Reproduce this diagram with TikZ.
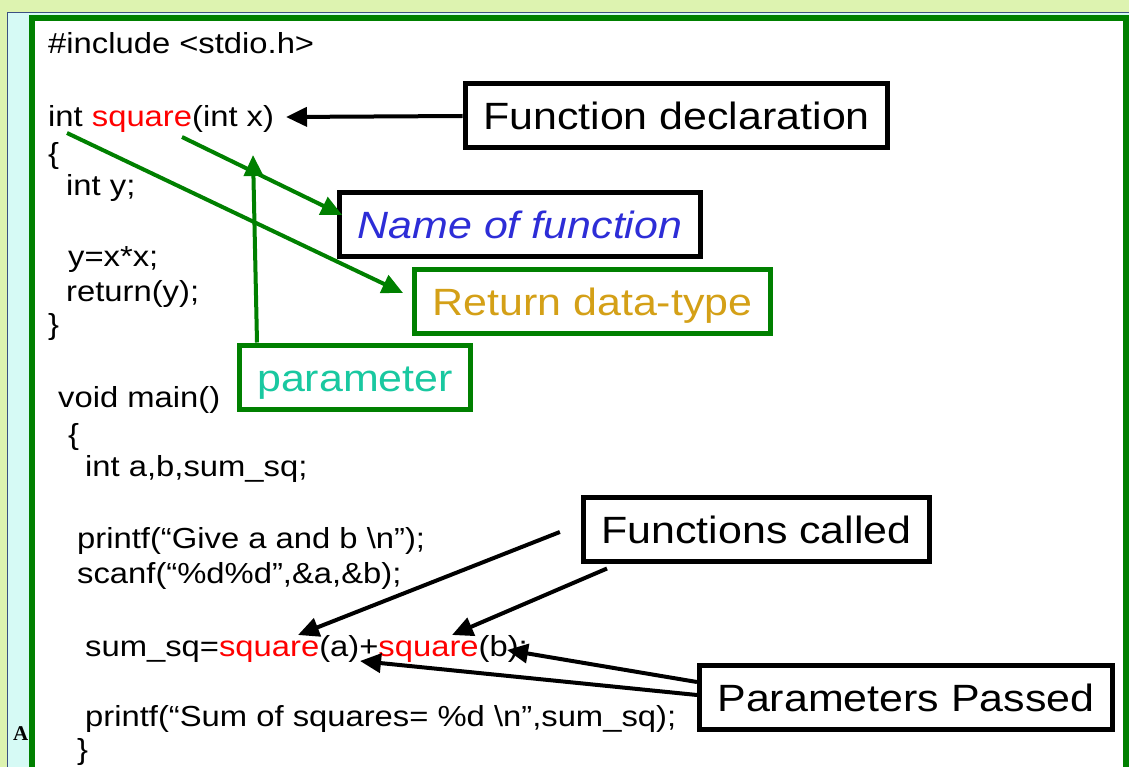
\documentclass[tikz,border=0pt]{standalone}
\usepackage{fontspec}
\setmainfont{Liberation Sans}
\newfontfamily\codefont[FakeStretch=1.13]{Liberation Sans}
\newfontfamily\markfont{Liberation Serif}
\usetikzlibrary{arrows.meta}
\definecolor{slidebg}{RGB}{221,243,176}
\definecolor{stripcyan}{RGB}{214,250,245}
\definecolor{edgeblue}{RGB}{60,80,130}
\definecolor{dkgreen}{RGB}{0,128,0}
\definecolor{namecol}{RGB}{45,45,215}
\definecolor{retcol}{RGB}{212,160,23}
\definecolor{parcol}{RGB}{25,200,160}
\begin{document}
\begin{tikzpicture}[x=1pt,y=-1pt,
  code/.style={anchor=base west,inner sep=0pt,font=\codefont\fontsize{29}{34}\selectfont},
  tag/.style={draw,line width=5pt,inner xsep=18pt,inner ysep=0pt,minimum height=64pt,
    text height=28pt,text depth=0pt,font=\codefont\fontsize{38}{44}\selectfont},
  blk/.style={line width=4pt,-{Triangle[length=21pt,width=19pt]}},
  grn/.style={blk,dkgreen}]
\useasboundingbox (0,0) rectangle (1129,767);
\clip (0,0) rectangle (1129,767);
% slide frame
\fill[slidebg] (0,0) rectangle (1129,767);
\filldraw[fill=stripcyan,draw=edgeblue,line width=1.5pt] (7.5,12.5) rectangle (1140,790);
\filldraw[fill=white,draw=dkgreen,line width=6pt] (32,18) rectangle (1126,800);
\node[anchor=base west,inner sep=0pt,font=\markfont\bfseries\fontsize{21}{24}\selectfont] (amark) at (13,740) {A};
% program text
\node[code] (inc) at (48,54) {\#include <stdio.h>};
\node[code] (decl) at (48,127) {int \textcolor{red}{square}(int x)};
\node[code] (ob1) at (48,164) {\{};
\node[code] (dy) at (66,196) {int y;};
\node[code] (asg) at (68,267) {y=x*x;};
\node[code] (ret) at (66,301) {return(y);};
\node[code] (cb1) at (48,334) {\}};
\node[code] (mn) at (58,407) {void main()};
\node[code] (ob2) at (68,444) {\{};
\node[code] (da) at (85,476) {int a,b,sum\_sq;};
\node[code] (pr1) at (77,548) {printf(“Give a and b \textbackslash n”);};
\node[code] (sc) at (77,583) {scanf(“\%d\%d”,\&a,\&b);};
\node[code] (sum) at (85,656) {sum\_sq=\textcolor{red}{square}(a)+\textcolor{red}{square}(b);};
\node[code] (pr2) at (85,726) {printf(“Sum of squares= \%d \textbackslash n”,sum\_sq);};
\node[code] (cb2) at (77,759) {\}};
% labels
\node[tag] (fdecl) at (676.5,116) {Function declaration};
\node[tag,text=namecol] (namefn) at (520,224.5) {\itshape Name of function};
\node[tag,draw=dkgreen,text=retcol] (rettype) at (592.5,301.5) {Return data-type};
\node[tag,draw=dkgreen,text=parcol] (param) at (355,377) {parameter};
\node[tag] (fcalled) at (756.5,529) {Functions called};
\node[tag] (ppassed) at (906,697.5) {Parameters Passed};
% arrows
\coordinate (decltip) at (286,117);
\coordinate (intpt) at (67,133);
\coordinate (sqpt) at (182,137);
\coordinate (xpt) at (253,155);
\coordinate (sqa) at (298,635);
\coordinate (sqb) at (452,635);
\coordinate (apt) at (360,661);
\coordinate (bpt) at (507,650);
\draw[blk] (fdecl.west) -- (decltip);
\draw[grn] (sqpt) -- ([xshift=5pt,yshift=9.5pt]namefn.west);
\draw[grn] (intpt) -- ([xshift=-9pt,yshift=8.5pt]rettype.west);
\draw[grn] ([xshift=-98pt]param.north) -- (xpt);
\draw[blk] ([xshift=-21pt,yshift=-3pt]fcalled.west) -- (sqa);
\draw[blk] ([xshift=-149.5pt,yshift=-5pt]fcalled.south) -- (sqb);
\draw[blk] ([yshift=15.5pt]ppassed.west) -- (bpt);
\draw[blk] ([yshift=2.5pt]ppassed.west) -- (apt);
\end{tikzpicture}
\end{document}
